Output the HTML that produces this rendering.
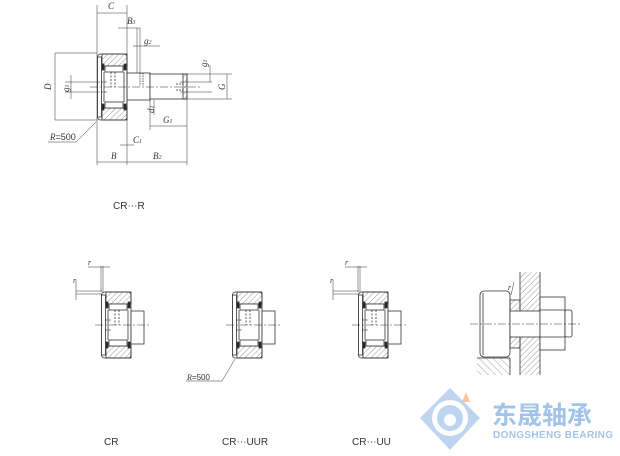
<!DOCTYPE html>
<html><head><meta charset="utf-8"><style>
html,body{margin:0;padding:0;background:#fff;}
svg{display:block;}
text{font-family:"Liberation Serif",serif;font-style:italic;fill:#333;}
.s{font-family:"Liberation Sans",sans-serif;font-style:normal;}
</style></head><body>
<svg width="620" height="456" viewBox="0 0 620 456" xmlns="http://www.w3.org/2000/svg">
<defs>
<pattern id="h" width="4" height="4" patternUnits="userSpaceOnUse" patternTransform="rotate(45)">
<line x1="0" y1="0" x2="0" y2="4" stroke="#555" stroke-width="0.6"/></pattern>
<pattern id="h2" width="5" height="5" patternUnits="userSpaceOnUse" patternTransform="rotate(-45)">
<line x1="0" y1="0" x2="0" y2="5" stroke="#666" stroke-width="0.6"/></pattern>
<g id="brg" stroke="#333" stroke-width="0.8" fill="none">
<rect x="0.5" y="-33" width="29.5" height="66" rx="3" fill="#fff"/>
<rect x="5" y="-33" width="25" height="12" fill="url(#h)"/>
<rect x="5" y="21" width="25" height="12" fill="url(#h)"/>
<rect x="0.5" y="-30" width="4" height="60" fill="#fff"/>
<rect x="8" y="-21" width="18" height="6" fill="#fff"/>
<rect x="8" y="15" width="18" height="6" fill="#fff"/>
<rect x="5" y="-23" width="2" height="6" fill="#222"/>
<rect x="27" y="-23" width="2" height="6" fill="#222"/>
<rect x="5" y="17" width="2" height="6" fill="#222"/>
<rect x="27" y="17" width="2" height="6" fill="#222"/>
<line x1="7" y1="-15" x2="7" y2="15"/>
<line x1="27" y1="-15" x2="27" y2="15"/>
<line x1="14" y1="-15" x2="14" y2="0" stroke-dasharray="2,1.5"/>
<line x1="18" y1="-15" x2="18" y2="0" stroke-dasharray="2,1.5"/>
<line x1="4" y1="-5" x2="10" y2="-5" stroke-dasharray="2,1.5"/>
<line x1="4" y1="5" x2="10" y2="5" stroke-dasharray="2,1.5"/>
</g>
</defs>

<!-- TOP DRAWING -->
<g stroke="#333" stroke-width="0.8" fill="none">
<use href="#brg" x="97" y="87"/>
<rect x="127" y="73" width="23" height="27" fill="#fff"/>
<rect x="150" y="74" width="37" height="25" fill="#fff"/>
<rect x="183" y="74" width="4" height="25" fill="url(#h)"/>
<line x1="140" y1="73" x2="140" y2="86" stroke-dasharray="1.5,1"/>
<line x1="143" y1="73" x2="143" y2="86" stroke-dasharray="1.5,1"/>
<line x1="176" y1="84" x2="183" y2="84" stroke-dasharray="2,1"/>
<line x1="176" y1="90" x2="183" y2="90" stroke-dasharray="2,1"/>
<line x1="90" y1="87" x2="200" y2="87" stroke-width="0.5" stroke-dasharray="8,2,2,2"/>
<!-- dimension lines -->
<g stroke-width="0.5">
<line x1="97" y1="5" x2="97" y2="165"/>
<line x1="127" y1="5" x2="127" y2="165"/>
<line x1="97" y1="13" x2="127" y2="13"/>
<line x1="118" y1="28" x2="140" y2="28"/>
<line x1="137" y1="28" x2="137" y2="73"/>
<line x1="140" y1="28" x2="140" y2="73"/>
<line x1="133" y1="46" x2="160" y2="46"/>
<line x1="187" y1="99" x2="187" y2="165"/>
<line x1="150" y1="100" x2="150" y2="130"/>
<line x1="150" y1="126" x2="187" y2="126"/>
<line x1="97" y1="162" x2="187" y2="162"/>
<line x1="120" y1="145" x2="134" y2="145"/>
<line x1="55" y1="53" x2="97" y2="53"/>
<line x1="55" y1="120" x2="97" y2="120"/>
<line x1="55" y1="53" x2="55" y2="120"/>
<line x1="65" y1="82" x2="100" y2="82"/>
<line x1="65" y1="92" x2="100" y2="92"/>
<line x1="71" y1="75" x2="71" y2="99"/>
<line x1="187" y1="74" x2="232" y2="74"/>
<line x1="187" y1="99" x2="232" y2="99"/>
<line x1="227" y1="74" x2="227" y2="99"/>
<line x1="180" y1="82" x2="212" y2="82"/>
<line x1="180" y1="92" x2="212" y2="92"/>
<line x1="210" y1="65" x2="210" y2="82"/>
<line x1="154" y1="100" x2="154" y2="115"/>
<line x1="96" y1="122" x2="76" y2="142"/>
<line x1="76" y1="142" x2="48" y2="142"/>
</g>
</g>
<g font-size="9">
<text x="108" y="9">C</text>
<text x="127" y="24">B<tspan font-size="6">3</tspan></text>
<text x="144" y="44">g<tspan font-size="6">2</tspan></text>
<text x="51" y="90" transform="rotate(-90 51 90)">D</text>
<text x="69" y="92" transform="rotate(-90 69 92)">g<tspan font-size="6">1</tspan></text>
<text x="207" y="67" transform="rotate(-90 207 67)">g<tspan font-size="6">1</tspan></text>
<text x="225" y="90" transform="rotate(-90 225 90)">G</text>
<text x="154" y="113" transform="rotate(-90 154 113)">d<tspan font-size="6">1</tspan></text>
<text x="163" y="123">G<tspan font-size="6">1</tspan></text>
<text x="133" y="143">C<tspan font-size="6">1</tspan></text>
<text x="111" y="159">B</text>
<text x="153" y="159">B<tspan font-size="6">2</tspan></text>
<text x="50" y="140">R<tspan class="s">=500</tspan></text>
</g>
<text class="s" x="113" y="209" font-size="10">CR⋯R</text>

<!-- BOTTOM ROW -->
<g stroke="#333" stroke-width="0.8" fill="none">
<use href="#brg" x="101" y="325"/>
<rect x="131" y="311" width="13" height="33" fill="#fff"/>
<line x1="95" y1="325" x2="150" y2="325" stroke-width="0.5" stroke-dasharray="8,2,2,2"/>
<use href="#brg" x="232" y="325"/>
<rect x="262" y="311" width="13" height="33" fill="#fff"/>
<line x1="226" y1="325" x2="280" y2="325" stroke-width="0.5" stroke-dasharray="8,2,2,2"/>
<use href="#brg" x="358" y="325"/>
<rect x="388" y="311" width="13" height="33" fill="#fff"/>
<line x1="352" y1="325" x2="406" y2="325" stroke-width="0.5" stroke-dasharray="8,2,2,2"/>
<g stroke-width="0.5">
<line x1="101" y1="266" x2="101" y2="292"/><line x1="103" y1="266" x2="103" y2="292"/>
<line x1="88" y1="267" x2="110" y2="267"/>
<line x1="76" y1="291" x2="102" y2="291"/><line x1="76" y1="294" x2="102" y2="294"/>
<line x1="76" y1="280" x2="76" y2="300"/>
<line x1="358" y1="266" x2="358" y2="292"/><line x1="360" y1="266" x2="360" y2="292"/>
<line x1="345" y1="267" x2="367" y2="267"/>
<line x1="333" y1="291" x2="359" y2="291"/><line x1="333" y1="294" x2="359" y2="294"/>
<line x1="333" y1="280" x2="333" y2="300"/>
<line x1="235" y1="359" x2="222" y2="381"/><line x1="222" y1="381" x2="186" y2="381"/>
</g>
</g>
<g font-size="8">
<text x="88" y="265">r</text><text x="73" y="283">r</text>
<text x="345" y="265">r</text><text x="330" y="283">r</text>
<text x="187" y="380">R<tspan class="s">=500</tspan></text>
</g>

<!-- assembly -->
<g stroke="#333" stroke-width="0.8" fill="none">
<rect x="520" y="272" width="20" height="103" fill="url(#h)" stroke="none"/>
<line x1="520" y1="272" x2="520" y2="375"/><line x1="540" y1="272" x2="540" y2="375"/>
<rect x="477" y="358" width="33" height="17" fill="url(#h2)" stroke="none"/>
<line x1="477" y1="358" x2="510" y2="358"/><line x1="510" y1="358" x2="510" y2="375"/>
<rect x="480" y="291" width="30" height="66" rx="4" fill="#fff"/>
<line x1="483" y1="293" x2="483" y2="355"/>
<rect x="510" y="300" width="10" height="48" fill="url(#h)"/>
<rect x="510" y="311" width="30" height="26" fill="#fff"/>
<rect x="540" y="297" width="25" height="53" fill="#fff"/>
<line x1="540" y1="310" x2="565" y2="310"/><line x1="540" y1="337" x2="565" y2="337"/>
<rect x="565" y="310" width="7" height="27" rx="2" fill="#fff"/>
<line x1="470" y1="324" x2="580" y2="324" stroke-width="0.5" stroke-dasharray="8,2,2,2"/>
<line x1="511" y1="295" x2="514" y2="282" stroke-width="0.5"/>
</g>
<text x="508" y="290" font-size="8">r</text>

<!-- bottom labels -->
<text class="s" x="104" y="445" font-size="10">CR</text>
<text class="s" x="222" y="445" font-size="10">CR⋯UUR</text>
<text class="s" x="352" y="445" font-size="10">CR⋯UU</text>

<!-- logo -->
<g opacity="0.75">
<polygon points="450,388 480,418 450,450 420,418" fill="#a9c8ea"/>
<circle cx="450" cy="418" r="18" fill="#fff"/>
<circle cx="450" cy="418" r="13" fill="#a9c8ea"/>
<circle cx="450" cy="420" r="6" fill="#fff"/>
<polygon points="466,392 470,402 462,402" fill="#f2b27a"/>
</g>
<text class="s" x="492" y="424" font-size="25" font-weight="bold" fill="#9cc0e8" style="font-family:'Noto Sans CJK SC',sans-serif;font-style:normal;fill:#a3c4ea">东晟轴承</text>
<text class="s" x="493" y="438" font-size="10" font-weight="bold" style="fill:#a3c4ea" textLength="120">DONGSHENG BEARING</text>
</svg>
</body></html>
